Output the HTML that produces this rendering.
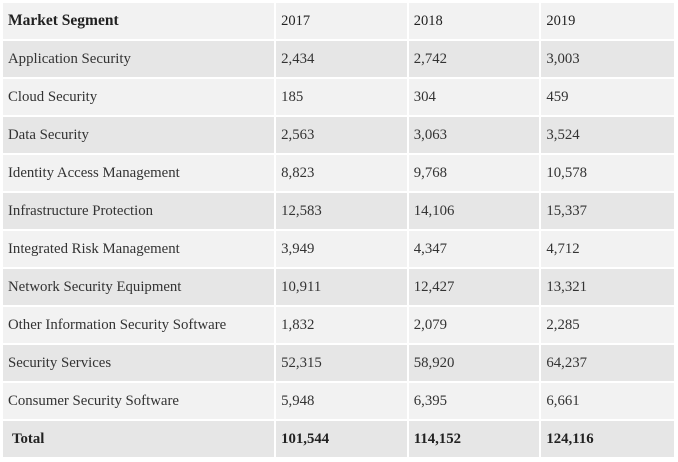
<!DOCTYPE html><html><head><style>
body{margin:0;background:#fff;width:678px;height:462px;overflow:hidden;font-family:"Liberation Serif",serif;color:#333}
table{border-collapse:collapse;position:absolute;left:1px;top:1px;width:675px}
td{height:36px;padding:0 0 0 5px;border:2px solid #fff;font-size:14.8px;box-sizing:border-box}
tr{height:38px}
tr:nth-child(odd) td{background:#f2f2f2}
tr:nth-child(even) td{background:#e6e6e6}
tr.h td{font-weight:bold;font-size:15.5px;color:#222}
tr.h td.n{font-weight:normal;font-size:14.5px}
tr.t td{font-weight:bold;color:#222}
tr.t td:first-child{padding-left:9px}
</style></head><body>
<table>
<colgroup><col style="width:274px"><col style="width:133px"><col style="width:133px"><col style="width:135px"></colgroup>
<tr class="h"><td>Market Segment</td><td class="n">2017</td><td class="n">2018</td><td class="n">2019</td></tr>
<tr><td>Application Security</td><td>2,434</td><td>2,742</td><td>3,003</td></tr>
<tr><td>Cloud Security</td><td>185</td><td>304</td><td>459</td></tr>
<tr><td>Data Security</td><td>2,563</td><td>3,063</td><td>3,524</td></tr>
<tr><td>Identity Access Management</td><td>8,823</td><td>9,768</td><td>10,578</td></tr>
<tr><td>Infrastructure Protection</td><td>12,583</td><td>14,106</td><td>15,337</td></tr>
<tr><td>Integrated Risk Management</td><td>3,949</td><td>4,347</td><td>4,712</td></tr>
<tr><td>Network Security Equipment</td><td>10,911</td><td>12,427</td><td>13,321</td></tr>
<tr><td>Other Information Security Software</td><td>1,832</td><td>2,079</td><td>2,285</td></tr>
<tr><td>Security Services</td><td>52,315</td><td>58,920</td><td>64,237</td></tr>
<tr><td>Consumer Security Software</td><td>5,948</td><td>6,395</td><td>6,661</td></tr>
<tr class="t"><td>Total</td><td>101,544</td><td>114,152</td><td>124,116</td></tr>
</table>
</body></html>
